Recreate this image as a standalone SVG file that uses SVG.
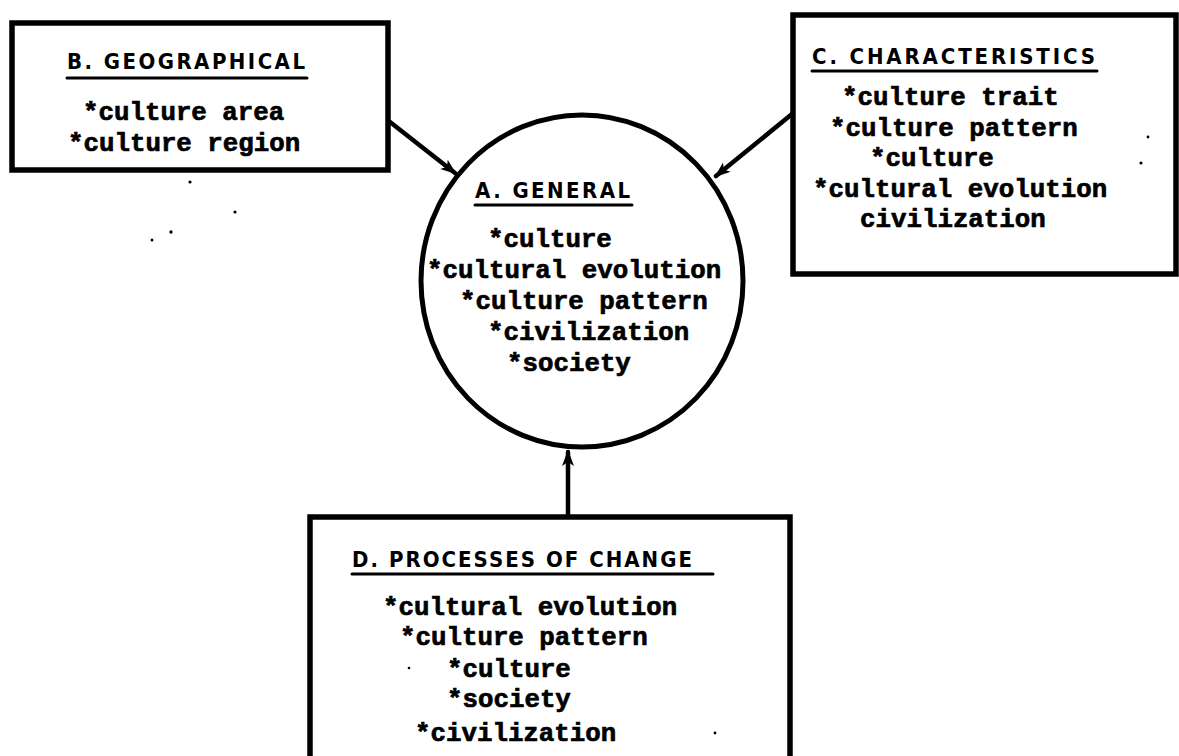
<svg xmlns="http://www.w3.org/2000/svg" width="1179" height="756" viewBox="0 0 1179 756">
  <style>
    .frame { fill: #fff; stroke: #000; stroke-width: 5.5; }
    .ring { fill: #fff; stroke: #000; stroke-width: 5; }
    .link { fill: none; stroke: #000; stroke-width: 4.5; stroke-linecap: round; }
    .rule { stroke: #000; stroke-width: 3; stroke-linecap: round; }
    .head { font-family: "DejaVu Sans Condensed", "Liberation Sans", Arial, sans-serif; font-stretch: condensed; font-weight: bold; font-size: 22px; fill: #000; }
    .item { font-family: "Liberation Mono", "DejaVu Sans Mono", monospace; font-weight: bold; font-size: 25.8px; fill: #000; stroke: #000; stroke-width: 0.7; }
    .speck { fill: #000; }
  </style>
  <defs>
    <marker id="tip" markerUnits="userSpaceOnUse" markerWidth="20" markerHeight="20" viewBox="-16 -10 20 20" refX="0" refY="0" orient="auto">
      <path d="M2,0 L-14,-6 L-10,0 L-14,6 Z" fill="#000"/>
    </marker>
  </defs>
  <rect width="1179" height="756" fill="#fff"/>

  <!-- connectors -->
  <g id="connectors">
    <line class="link" x1="390" y1="122" x2="455" y2="173" marker-end="url(#tip)"/>
    <line class="link" x1="792" y1="114" x2="716" y2="176" marker-end="url(#tip)"/>
    <line class="link" x1="568" y1="515" x2="568" y2="452" marker-end="url(#tip)"/>
  </g>

  <!-- A. General (centre) -->
  <g id="node-a">
    <ellipse class="ring" cx="582" cy="281" rx="161" ry="166"/>
    <text class="head" x="475" y="198" textLength="155" lengthAdjust="spacing">A. GENERAL</text>
    <line class="rule" x1="475" y1="205" x2="632" y2="205"/>
    <text class="item" x="488" y="247">*culture</text>
    <text class="item" x="427" y="278">*cultural evolution</text>
    <text class="item" x="460" y="309">*culture pattern</text>
    <text class="item" x="488" y="340">*civilization</text>
    <text class="item" x="507" y="371">*society</text>
  </g>

  <!-- B. Geographical -->
  <g id="node-b">
    <rect class="frame" x="12" y="23" width="376" height="147"/>
    <text class="head" x="67" y="69" textLength="238" lengthAdjust="spacing">B. GEOGRAPHICAL</text>
    <line class="rule" x1="67" y1="78" x2="307" y2="78"/>
    <text class="item" x="83" y="120">*culture area</text>
    <text class="item" x="68" y="151">*culture region</text>
  </g>

  <!-- C. Characteristics -->
  <g id="node-c">
    <rect class="frame" x="793" y="15" width="383" height="259"/>
    <text class="head" x="812" y="64" textLength="283" lengthAdjust="spacing">C. CHARACTERISTICS</text>
    <line class="rule" x1="812" y1="71" x2="1097" y2="71"/>
    <text class="item" x="842" y="105">*culture trait</text>
    <text class="item" x="830" y="135.5">*culture pattern</text>
    <text class="item" x="870" y="166">*culture</text>
    <text class="item" x="813" y="196.5">*cultural evolution</text>
    <text class="item" x="860" y="227">civilization</text>
  </g>

  <!-- D. Processes of change -->
  <g id="node-d">
    <rect class="frame" x="310" y="517" width="480" height="242"/>
    <text class="head" x="352" y="567" textLength="340" lengthAdjust="spacing">D. PROCESSES OF CHANGE</text>
    <line class="rule" x1="352" y1="574" x2="713" y2="574"/>
    <text class="item" x="383" y="615">*cultural evolution</text>
    <text class="item" x="400" y="645">*culture pattern</text>
    <text class="item" x="447" y="677">*culture</text>
    <text class="item" x="447" y="707">*society</text>
    <text class="item" x="415" y="741">*civilization</text>
  </g>

  <!-- loose specks on the sheet -->
  <g id="specks">
    <circle class="speck" cx="190" cy="182" r="1.6"/>
    <circle class="speck" cx="235" cy="212" r="1.6"/>
    <circle class="speck" cx="171" cy="232" r="1.7"/>
    <circle class="speck" cx="152" cy="240" r="1.5"/>
    <circle class="speck" cx="1148" cy="137" r="1.4"/>
    <circle class="speck" cx="1141" cy="163" r="1.6"/>
    <circle class="speck" cx="409" cy="668" r="1.3"/>
    <circle class="speck" cx="715" cy="733" r="1.4"/>
  </g>
</svg>
